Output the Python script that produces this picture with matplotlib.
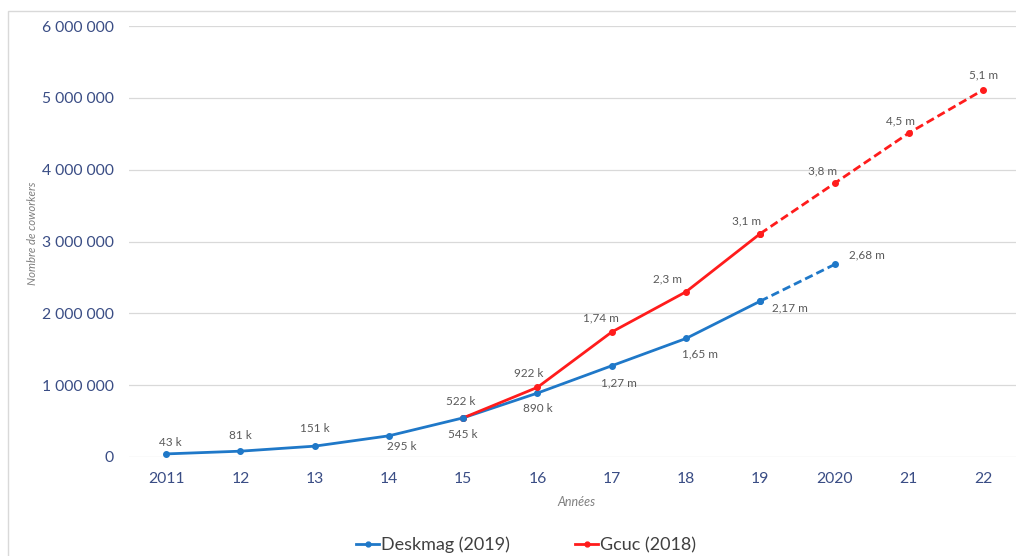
import matplotlib
matplotlib.use("Agg")
import matplotlib.pyplot as plt
from matplotlib.patches import Rectangle
from matplotlib.ticker import FuncFormatter

plt.rcParams['font.family'] = ['Lato', 'DejaVu Sans']

# ---- data ----
years = ["2011", "12", "13", "14", "15", "16", "17", "18", "19", "2020", "21", "22"]

desk_idx = [0, 1, 2, 3, 4, 5, 6, 7, 8, 9]
desk_vals = [43000, 81000, 151000, 295000, 545000, 890000, 1270000, 1650000, 2170000, 2680000]
desk_labels = ["43 k", "81 k", "151 k", "295 k", "545 k", "890 k", "1,27 m", "1,65 m", "2,17 m", "2,68 m"]

gcuc_idx = [4, 5, 6, 7, 8, 9, 10, 11]
gcuc_vals = [545000, 970000, 1740000, 2300000, 3110000, 3810000, 4510000, 5110000]
gcuc_labels = ["522 k", "922 k", "1,74 m", "2,3 m", "3,1 m", "3,8 m", "4,5 m", "5,1 m"]

yticks = [0, 1000000, 2000000, 3000000, 4000000, 5000000, 6000000]

BLUE = "#1f78c8"
RED = "#ff1c1c"
TICK = "#3a4d85"
LBL = "#595959"

fig = plt.figure(figsize=(10.16, 5.56), dpi=100)
W, H = 1016, 556
ax = fig.add_axes([129 / W, (H - 457) / H, (W - 129) / W, (457 - 26) / H])

# chart border
fig.patches.append(Rectangle((8 / W, -0.1), 1.2, (H - 11) / H + 0.1, transform=fig.transFigure,
                             fill=False, edgecolor="#d9d9d9", linewidth=1.0))

# Deskmag: solid up to 2019, dashed to 2020
ax.plot(desk_idx[:9], desk_vals[:9], color=BLUE, lw=2.0, marker='o', ms=4, zorder=3)
ax.plot(desk_idx[8:], desk_vals[8:], color=BLUE, lw=2.0, ls=(0, (3, 1.5)), marker='o', ms=4, zorder=3)
# Gcuc: solid 2015-2019, dashed after
ax.plot(gcuc_idx[:5], gcuc_vals[:5], color=RED, lw=2.0, marker='o', ms=4, zorder=3)
ax.plot(gcuc_idx[4:], gcuc_vals[4:], color=RED, lw=2.0, ls=(0, (3, 1.5)), marker='o', ms=4, zorder=3)
ax.plot(gcuc_idx[0], gcuc_vals[0], 'o', color=BLUE, ms=4, zorder=4)

# label offsets in points
desk_off = [(3, 8), (0, 11), (0, 13), (9, -8), (0, -12), (0, -11), (5, -12), (10, -11), (21, -5), (23, 7)]
gcuc_off = [(-2, 12), (-6, 10), (-8, 10), (-13, 9), (-10, 9), (-9, 9), (-6, 9), (0, 11)]

for i, v, t, o in zip(desk_idx, desk_vals, desk_labels, desk_off):
    ax.annotate(t, (i, v), xytext=o, textcoords='offset points', ha='center', va='center',
                fontsize=8.5, color=LBL)
for i, v, t, o in zip(gcuc_idx, gcuc_vals, gcuc_labels, gcuc_off):
    ax.annotate(t, (i, v), xytext=o, textcoords='offset points', ha='center', va='center',
                fontsize=8.5, color=LBL)

ax.set_xlim(-0.5, -0.5 + (W - 129) / 74.27)
ax.set_ylim(0, 6000000)
ax.set_xticks(range(len(years)))
ax.set_xticklabels(years)
ax.set_yticks(yticks)
ax.yaxis.set_major_formatter(FuncFormatter(lambda v, p: f"{int(v):,}".replace(",", " ")))
ax.tick_params(axis='both', length=0, labelsize=11.3, labelcolor=TICK)
ax.tick_params(axis='y', pad=11)
ax.tick_params(axis='x', pad=11)
ax.grid(axis='y', color="#d9d9d9", lw=0.9)
ax.set_axisbelow(True)
for s in ax.spines.values():
    s.set_visible(False)

fig.text(33 / W, (H - 233) / H, "Nombre de coworkers", rotation=90, ha='center', va='center',
         fontsize=8.2, style='italic', color="#7f7f7f")
fig.text(576 / W, (H - 502) / H, "Années", ha='center', va='center',
         fontsize=9, style='italic', color="#7f7f7f")

h1, = ax.plot([], [], color=BLUE, lw=2.0, marker='o', ms=3.5)
h2, = ax.plot([], [], color=RED, lw=2.0, marker='o', ms=3.5)
fig.legend([h1, h2], ["Deskmag (2019)", "Gcuc (2018)"], loc='center', bbox_to_anchor=(526 / W, (H - 545) / H),
           ncol=2, frameon=False, fontsize=13, handlelength=1.3, handletextpad=0.1, columnspacing=3.6,
           labelcolor="#404040")

fig.savefig("out.png", dpi=100)
